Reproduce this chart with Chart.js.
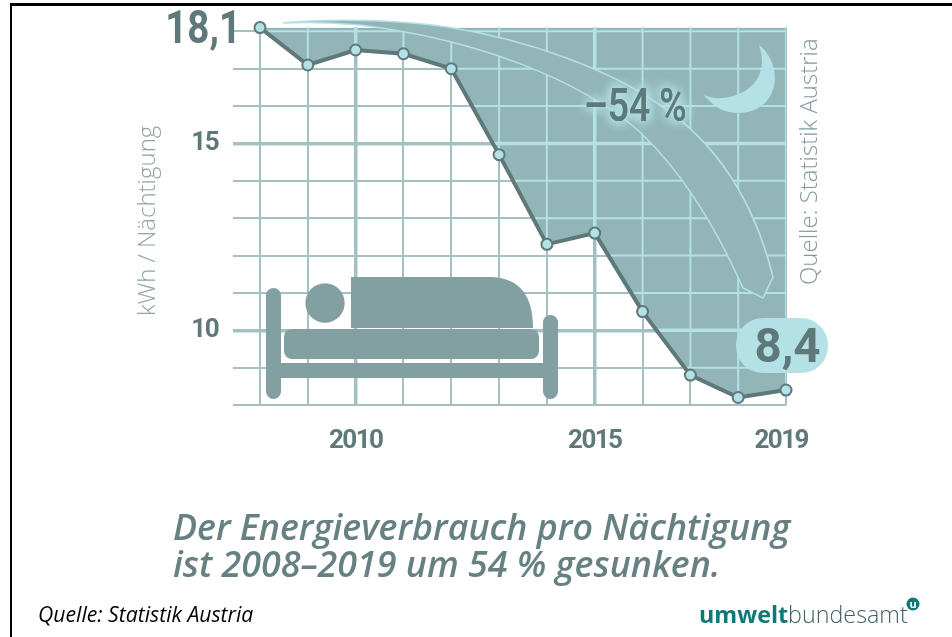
<!DOCTYPE html>
<html lang="de"><head><meta charset="utf-8">
<title>Energieverbrauch pro Nächtigung</title>
<script src="https://cdn.jsdelivr.net/npm/chart.js@4/dist/chart.umd.min.js"></script>
<style>
html,body{margin:0;padding:0;background:#fff;width:952px;height:637px;overflow:hidden}
#wrap{position:absolute;left:10px;top:3px;width:942px;height:634px;border-top:3px solid #000;border-left:2px solid #000;box-sizing:border-box}
canvas{position:absolute;left:0;top:0}
</style></head><body>
<div id="wrap"></div>
<canvas id="c" width="952" height="637"></canvas>
<script>
const years = [2008,2009,2010,2011,2012,2013,2014,2015,2016,2017,2018,2019];
const energyKWh = [18.1,17.1,17.5,17.4,17.0,14.7,12.3,12.6,10.5,8.8,8.2,8.4];
const yGridValues = [8,9,10,11,12,13,14,15,16,17,18];
const yTickLabels = [10,15];
const xTickLabels = [2010,2015,2019];
const thickYears = [2010,2015];
const yAxisTitle = 'kWh / Nächtigung';
const changeLabel = '–54 %';
const sourceVertical = 'Quelle: Statistik Austria';
const headline = ['Der Energieverbrauch pro Nächtigung','ist 2008–2019 um 54 % gesunken.'];
const footnote = 'Quelle: Statistik Austria';
const logoBold = 'umwelt', logoLight = 'bundesamt';

const DARK='#5f787a', BAND='#93b5b7', LIGHT='#b3e1e5', ICON='#82a0a2';
const NARROW='Roboto,"Liberation Sans",sans-serif';
const SANS='"Open Sans","Noto Sans",sans-serif';
const PLOT_TOP=27.6;
const comma = v => String(v).replace('.',',');
const xWidth = y => thickYears.includes(y) ? 3.5 : 2;
const yWidth = v => yTickLabels.includes(v) ? 3.5 : 2;

function squeezed(ctx,text,x,y,f){
  ctx.save(); ctx.translate(x,y); ctx.scale(f,1); ctx.fillText(text,0,0); ctx.restore();
}
function drawArrow(ctx){
  ctx.save();
  ctx.beginPath();
  ctx.moveTo(283,23);
  ctx.bezierCurveTo(330,18,400,20,447,27);
  ctx.bezierCurveTo(530,40,610,70,660,105);
  ctx.bezierCurveTo(720,145,755,205,773,277);
  ctx.lineTo(763,298);
  ctx.lineTo(743,288);
  ctx.bezierCurveTo(715,225,680,170,640,132);
  ctx.bezierCurveTo(580,80,480,40,360,25);
  ctx.bezierCurveTo(335,23,305,22,283,23);
  ctx.closePath();
  ctx.fillStyle=BAND; ctx.fill();
  ctx.strokeStyle=LIGHT; ctx.lineWidth=1.6; ctx.stroke();
  ctx.restore();
}
function drawMoon(ctx){
  ctx.save();
  ctx.beginPath();
  ctx.moveTo(759,45);
  ctx.bezierCurveTo(785,65,780,113,738,113);
  ctx.bezierCurveTo(722,113,711,104,704,95);
  ctx.bezierCurveTo(722,105,775,92,759,45);
  ctx.closePath();
  ctx.fillStyle=LIGHT; ctx.fill();
  ctx.restore();
}
function drawBed(ctx){
  ctx.save();
  ctx.fillStyle=ICON;
  ctx.beginPath(); ctx.roundRect(266,288,15,111,7.5); ctx.fill();
  ctx.beginPath(); ctx.roundRect(543,315,15,84,7.5); ctx.fill();
  ctx.fillRect(281,363,262,15);
  ctx.beginPath(); ctx.roundRect(284,329,255,30,8); ctx.fill();
  ctx.beginPath(); ctx.arc(325,303,19.7,0,Math.PI*2); ctx.fill();
  ctx.beginPath(); ctx.moveTo(351,277); ctx.lineTo(492,277);
  ctx.quadraticCurveTo(533,279,533,328); ctx.lineTo(351,328); ctx.closePath(); ctx.fill();
  ctx.restore();
}

const decor = {
  id:'decor',
  afterLayout(chart){
    const y=chart.scales.y, a=chart.chartArea;
    y.top=PLOT_TOP; y.height=y.bottom-PLOT_TOP;
    a.top=PLOT_TOP; a.height=a.bottom-PLOT_TOP;
    y.configure();
  },
  beforeDraw(chart){
    const ctx=chart.ctx;
    ['x','y'].forEach(k=>{
      const s=chart.scales[k], orig=s.drawLabels;
      if(s._wrapped) return;
      s._wrapped=true;
      s.drawLabels=function(a){ctx.save();ctx.letterSpacing='-1.6px';orig.call(s,a);ctx.restore();};
    });
    const y=chart.scales.y, origTitle=y.drawTitle;
    if(!y._wrappedTitle){
      y._wrappedTitle=true;
      y.drawTitle=function(a){ctx.save();ctx.translate(-2,4.5);origTitle.call(y,a);ctx.restore();};
    }
  },
  afterDatasetDraw(chart,args){
    if(args.index!==1) return;
    const ctx=chart.ctx, pts=args.meta.data, {x:sx,y:sy}=chart.scales, top=chart.chartArea.top;
    ctx.save();
    ctx.beginPath();
    ctx.moveTo(pts[0].x,top);
    pts.forEach(p=>ctx.lineTo(p.x,p.y));
    ctx.lineTo(pts[pts.length-1].x,top);
    ctx.closePath(); ctx.clip();
    ctx.strokeStyle=LIGHT;
    yGridValues.forEach(v=>{const y=sy.getPixelForValue(v);ctx.lineWidth=yWidth(v);ctx.beginPath();ctx.moveTo(sx.left,y);ctx.lineTo(sx.right,y);ctx.stroke();});
    years.forEach((yr,i)=>{const x=sx.getPixelForValue(i);ctx.lineWidth=xWidth(yr);ctx.beginPath();ctx.moveTo(x,top);ctx.lineTo(x,sy.bottom);ctx.stroke();});
    ctx.restore();
    drawArrow(ctx); drawMoon(ctx); drawBed(ctx);
  },
  afterDatasetsDraw(chart){
    const ctx=chart.ctx,{x:sx,y:sy}=chart.scales;
    ctx.save();
    ctx.fillStyle=DARK; ctx.textBaseline='alphabetic';
    ctx.textAlign='right';
    ctx.font='bold 47px '+NARROW;
    squeezed(ctx,comma(energyKWh[0]),sx.getPixelForValue(0)-19,sy.getPixelForValue(energyKWh[0])+15.5,0.82);
    const last=energyKWh.length-1, lx=sx.getPixelForValue(last), ly=sy.getPixelForValue(energyKWh[last]);
    ctx.fillStyle=LIGHT; ctx.beginPath(); ctx.roundRect(lx-50,ly-72,92,55,27); ctx.fill();
    ctx.fillStyle=DARK; ctx.textAlign='center';
    ctx.font='bold 49px '+NARROW;
    squeezed(ctx,comma(energyKWh[last]),lx+1.5,ly-28,0.97);
    ctx.font='500 47px '+NARROW; ctx.textAlign='left';
    ctx.shadowColor=LIGHT; ctx.shadowBlur=12;
    ctx.fillStyle=DARK;
    for(let i=0;i<4;i++) squeezed(ctx,changeLabel,584,120.5,0.79);
    ctx.shadowBlur=0; ctx.shadowColor='transparent';
    ctx.save();
    ctx.translate(816.5,285); ctx.rotate(-Math.PI/2);
    ctx.font='300 24px '+SANS; ctx.fillStyle='#82999a'; ctx.textAlign='left';
    ctx.fillText(sourceVertical,0,0);
    ctx.restore();
    ctx.font='italic 600 35.8px '+SANS; ctx.fillStyle='#678082'; ctx.textAlign='left';
    ctx.fillText(headline[0],173,540);
    ctx.fillText(headline[1],173,577);
    ctx.font='italic 21.2px '+SANS; ctx.fillStyle='#000';
    ctx.fillText(footnote,38,622);
    ctx.font='bold 23.3px '+SANS; ctx.fillStyle='#0d7a78';
    ctx.fillText(logoBold,699,623);
    const w=ctx.measureText(logoBold).width;
    ctx.font='300 23.3px '+SANS; ctx.fillStyle='#3f5f60';
    ctx.fillText(logoLight,699+w,623);
    ctx.fillStyle='#0d7a78'; ctx.beginPath(); ctx.arc(913,604,6.5,0,Math.PI*2); ctx.fill();
    ctx.fillStyle='#fff'; ctx.font='bold 11px '+SANS; ctx.textAlign='center'; ctx.fillText('u',913,608);
    ctx.restore();
  }
};

new Chart(document.getElementById('c'),{
  type:'line',
  data:{labels:years,datasets:[
    {data:energyKWh,order:1,clip:false,borderColor:DARK,borderWidth:4,tension:0,fill:false,
     pointRadius:5.5,pointBorderWidth:2,pointBackgroundColor:LIGHT,pointBorderColor:DARK},
    {data:energyKWh,order:2,borderWidth:0,pointRadius:0,tension:0,fill:'end',backgroundColor:BAND}
  ]},
  options:{
    responsive:false,animation:false,
    layout:{autoPadding:false,padding:{left:136,right:166,top:25,bottom:170}},
    plugins:{legend:{display:false},tooltip:{enabled:false},title:{display:false}},
    scales:{
      x:{type:'category',offset:false,
        border:{display:false},
        grid:{drawTicks:false,color:'#a4c1c2',lineWidth:c=>c.tick?xWidth(years[c.index]):2},
        ticks:{autoSkip:false,maxRotation:0,padding:21,color:DARK,font:{family:NARROW,weight:'bold',size:26},
          callback(v,i){const y=years[i];return xTickLabels.includes(y)?(y===2019?y+'  ':String(y)):'';}},
        afterFit(s){s.height=62;}
      },
      y:{min:8,max:18.1,
        border:{display:false},
        afterBuildTicks(s){s.ticks=yGridValues.map(v=>({value:v}));},
        afterFit(s){s.width=124;},
        grid:{tickLength:27,drawTicks:true,color:'#a4c1c2',tickColor:'#a4c1c2',
          lineWidth:c=>c.tick?yWidth(c.tick.value):2,tickWidth:c=>c.tick?yWidth(c.tick.value):2},
        title:{display:true,text:yAxisTitle,color:'#8fa5a6',font:{family:SANS,size:24,weight:'300'},padding:0},
        ticks:{padding:15,color:DARK,autoSkip:false,font:{family:NARROW,weight:'bold',size:26},
          callback:v=>yTickLabels.includes(v)?String(v):''}
      }
    }
  },
  plugins:[decor]
});
</script>
</body></html>
